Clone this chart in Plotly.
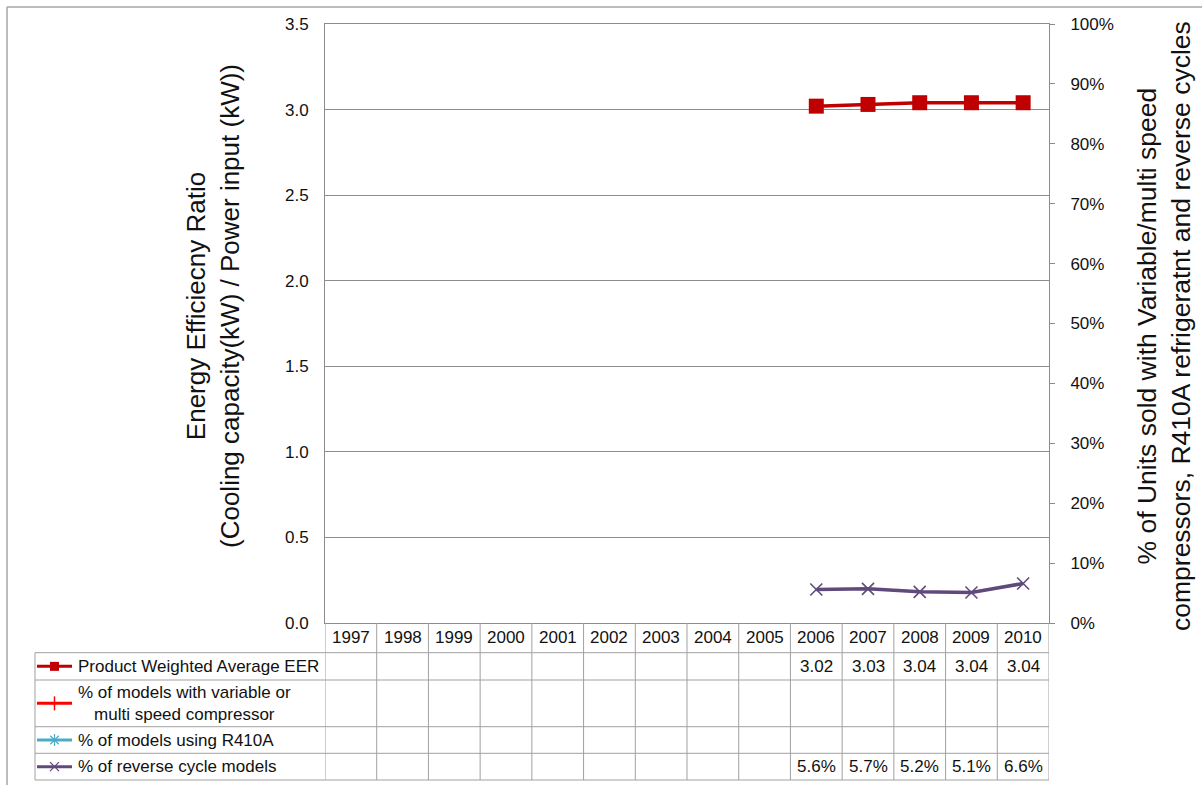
import plotly.graph_objects as go

# ---- data -------------------------------------------------------------
years = ["1997", "1998", "1999", "2000", "2001", "2002", "2003",
         "2004", "2005", "2006", "2007", "2008", "2009", "2010"]

# Product weighted average EER (left axis)
eer = [None, None, None, None, None, None, None, None, None,
       3.02, 3.03, 3.04, 3.04, 3.04]
# Shares of units sold (right axis, %)
variable_speed_pct = [None] * 14
r410a_pct = [None] * 14
reverse_cycle_pct = [None, None, None, None, None, None, None, None, None,
                     5.6, 5.7, 5.2, 5.1, 6.6]

series_names = [
    "Product Weighted Average EER",
    "% of models with variable or<br>multi speed compressor",
    "% of models using R410A",
    "% of reverse cycle models",
]

# ---- geometry (pixels) -------------------------------------------------
W, H = 1202, 785
PLOT_L, PLOT_R, PLOT_T, PLOT_B = 325, 1049, 24, 623
TABLE_L = 35
ROW_EDGES = [623, 652.7, 680, 726.7, 753.3, 780]
FRAME = 7

FONT = "Liberation Sans, Arial, sans-serif"
GRID = "#8C8C8C"
TABLE_LINE = "#A0A0A0"
TEXT = "#111111"

RED_DARK = "#C00000"
RED = "#FF0000"
CYAN = "#4BACC6"
PURPLE = "#604A7B"

fig = go.Figure()

# ---- chart series -------------------------------------------------------
fig.add_trace(go.Scatter(
    x=years, y=eer, name=series_names[0], mode="lines+markers",
    line=dict(color=RED_DARK, width=3.5),
    marker=dict(symbol="square", size=15, color=RED_DARK),
    xaxis="x", yaxis="y", showlegend=False, cliponaxis=False))
fig.add_trace(go.Scatter(
    x=years, y=variable_speed_pct, name="variable speed", mode="lines+markers",
    line=dict(color=RED, width=3.5), xaxis="x", yaxis="y2", showlegend=False))
fig.add_trace(go.Scatter(
    x=years, y=r410a_pct, name="R410A", mode="lines+markers",
    line=dict(color=CYAN, width=3.5), xaxis="x", yaxis="y2", showlegend=False))
fig.add_trace(go.Scatter(
    x=years, y=reverse_cycle_pct, name=series_names[3], mode="lines+markers",
    line=dict(color=PURPLE, width=3.5),
    marker=dict(symbol="x-thin", size=12, line=dict(color=PURPLE, width=1.6)),
    xaxis="x", yaxis="y2", showlegend=False, cliponaxis=False))

# ---- data table below the plot -----------------------------------------
shapes = []
annotations = []


def hline(x0, x1, y, xref="x3"):
    shapes.append(dict(type="line", xref=xref, yref="y3", x0=x0, x1=x1,
                       y0=y, y1=y, line=dict(color=TABLE_LINE, width=1)))


# column separators, one per category boundary
for i in range(len(years) + 1):
    shapes.append(dict(type="line", xref="x", yref="y3",
                       x0=i - 0.5, x1=i - 0.5, y0=ROW_EDGES[0], y1=ROW_EDGES[-1],
                       line=dict(color=TABLE_LINE, width=1)))
# label column left edge
shapes.append(dict(type="line", xref="x3", yref="y3", x0=TABLE_L, x1=TABLE_L,
                   y0=ROW_EDGES[1], y1=ROW_EDGES[-1],
                   line=dict(color=TABLE_LINE, width=1)))
for y in ROW_EDGES[1:]:
    hline(TABLE_L, PLOT_R, y)

# outer chart frame
shapes.append(dict(type="line", xref="x3", yref="y3", x0=FRAME, x1=W + 5,
                   y0=FRAME, y1=FRAME, line=dict(color="#A6A6A6", width=1.5)))
shapes.append(dict(type="line", xref="x3", yref="y3", x0=FRAME, x1=FRAME,
                   y0=FRAME, y1=H + 5, line=dict(color="#A6A6A6", width=1.5)))

row_mid = [(ROW_EDGES[k] + ROW_EDGES[k + 1]) / 2 for k in range(len(ROW_EDGES) - 1)]

# header row: years (category index positions on the x axis)
for i, yr in enumerate(years):
    annotations.append(dict(xref="x", yref="y3", x=i, y=row_mid[0], text=yr,
                            showarrow=False, font=dict(size=17, color=TEXT)))

# value rows
table_rows = [
    ([None if v is None else f"{v:.2f}" for v in eer]),
    ([None if v is None else f"{v:.1f}%" for v in variable_speed_pct]),
    ([None if v is None else f"{v:.1f}%" for v in r410a_pct]),
    ([None if v is None else f"{v:.1f}%" for v in reverse_cycle_pct]),
]
for r, labels in enumerate(table_rows):
    for i, lab in enumerate(labels):
        if lab is not None:
            annotations.append(dict(xref="x", yref="y3", x=i, y=row_mid[r + 1],
                                    text=lab, showarrow=False,
                                    font=dict(size=17, color=TEXT)))

# series names with legend keys
KEY_X0, KEY_X1, LABEL_X = 37, 72, 76
key_styles = [
    dict(color=RED_DARK, symbol="square", size=9, lw=0),
    dict(color=RED, symbol="line-ns", size=10, lw=1.5),
    dict(color=CYAN, symbol="asterisk", size=10, lw=1.2),
    dict(color=PURPLE, symbol="x-thin", size=9, lw=1.3),
]
for r, (name, st) in enumerate(zip(series_names, key_styles)):
    yc = row_mid[r + 1]
    fig.add_trace(go.Scatter(
        x=[KEY_X0, KEY_X1], y=[yc, yc], mode="lines",
        line=dict(color=st["color"], width=3), xaxis="x3", yaxis="y3",
        showlegend=False, hoverinfo="skip", cliponaxis=False))
    fig.add_trace(go.Scatter(
        x=[(KEY_X0 + KEY_X1) / 2], y=[yc], mode="markers",
        marker=dict(symbol=st["symbol"], size=st["size"], color=st["color"],
                    line=dict(color=st["color"], width=st["lw"])),
        xaxis="x3", yaxis="y3", showlegend=False, hoverinfo="skip",
        cliponaxis=False))
    annotations.append(dict(xref="x3", yref="y3", x=LABEL_X, y=yc, text=name,
                            xanchor="left", align="center", showarrow=False,
                            font=dict(size=17, color=TEXT)))

# axis titles
annotations.append(dict(
    xref="x3", yref="y3", x=213, y=306, textangle=-90, showarrow=False,
    text="Energy Efficiecny Ratio<br>(Cooling capacity(kW) / Power input (kW))",
    font=dict(size=26, color=TEXT)))
annotations.append(dict(
    xref="x3", yref="y3", x=1164, y=326, textangle=-90, showarrow=False,
    text="% of Units sold with Variable/multi speed<br>"
         "compressors, R410A refrigeratnt and reverse cycles",
    font=dict(size=26.5, color=TEXT)))

fig.update_layout(
    width=W, height=H,
    margin=dict(l=0, r=0, t=0, b=0),
    paper_bgcolor="white",
    plot_bgcolor="rgba(0,0,0,0)",
    font=dict(family=FONT, size=17, color=TEXT),
    showlegend=False,
    xaxis=dict(
        domain=[PLOT_L / W, PLOT_R / W], type="category",
        categoryorder="array", categoryarray=years, range=[-0.5, len(years) - 0.5],
        showticklabels=False, ticks="", showgrid=False, zeroline=False,
        showline=True, linecolor=GRID, linewidth=1, mirror=True,
        anchor="y", fixedrange=True, automargin=False),
    yaxis=dict(
        domain=[1 - PLOT_B / H, 1 - PLOT_T / H], range=[0, 3.5], dtick=0.5,
        tickformat=".1f", ticks="", showgrid=True, gridcolor=GRID, gridwidth=1,
        zeroline=False, showline=True, linecolor=GRID, linewidth=1,
        ticklabelstandoff=12, tickfont=dict(size=17, color=TEXT),
        anchor="x", fixedrange=True, automargin=False),
    yaxis2=dict(
        overlaying="y", side="right", anchor="x", range=[0, 100], dtick=10,
        ticksuffix="%", ticks="outside", ticklen=5, tickcolor=GRID,
        showgrid=False, zeroline=False, showline=True, linecolor=GRID,
        linewidth=1, ticklabelstandoff=12, tickfont=dict(size=17, color=TEXT),
        fixedrange=True, automargin=False),
    xaxis3=dict(domain=[0, 1], range=[0, W], visible=False, anchor="y3",
                fixedrange=True),
    yaxis3=dict(domain=[0, 1], range=[H, 0], visible=False, anchor="x3",
                fixedrange=True),
    shapes=shapes,
    annotations=annotations,
)

fig.write_html("out.html")
